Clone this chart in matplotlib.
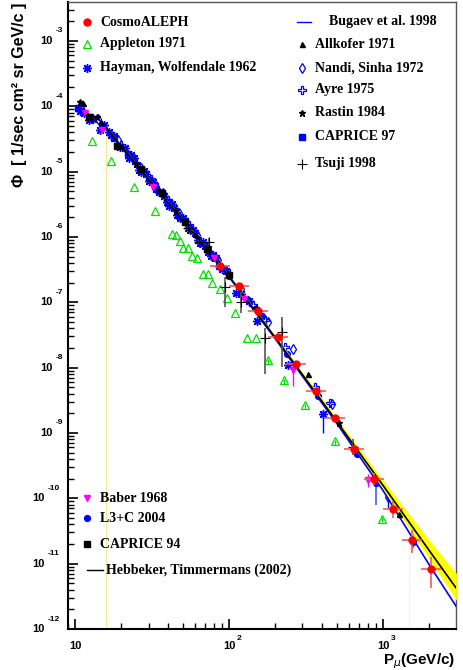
import numpy as np
import matplotlib.pyplot as plt
from matplotlib.ticker import LogLocator

W, H = 464, 670   # output size in pixels

# ---- curves (p in GeV/c, flux in 1/(s cm2 sr GeV/c)) ----
curve_p = [16, 20, 30, 50, 100, 200, 500, 1000, 2000, 3000]
hebb_f = [4.68e-5, 2.45e-5, 7.76e-6, 1.82e-6, 2.51e-7, 2.88e-8, 1.51e-9, 1.58e-10, 1.58e-11, 4.17e-12]
bugaev_f = [4.57e-5, 2.40e-5, 7.59e-6, 1.78e-6, 2.45e-7, 2.75e-8, 1.41e-9, 1.32e-10, 9.55e-12, 2.19e-12]
band_hi = [4.90e-5, 2.57e-5, 8.13e-6, 1.91e-6, 2.63e-7, 3.09e-8, 1.70e-9, 1.91e-10, 2.29e-11, 7.08e-12]
band_lo = [4.47e-5, 2.34e-5, 7.41e-6, 1.74e-6, 2.40e-7, 2.75e-8, 1.38e-9, 1.35e-10, 1.17e-11, 2.75e-12]
guide_p = [1486]

# ---- CosmoALEPH ----
cosmo_p = [87.5, 116, 155, 207, 273, 367, 488, 648, 871, 1157, 1543, 2050]
cosmo_f = [3.58e-7, 1.79e-7, 7.26e-8, 2.90e-8, 1.12e-8, 4.41e-9, 1.67e-9, 5.65e-10, 1.98e-10, 6.89e-11, 2.34e-11, 8.3e-12]
cosmo_dn = [0.03, 0.03, 0.03, 0.04, 0.04, 0.05, 0.06, 0.08, 0.10, 0.14, 0.20, 0.29]   # decades
cosmo_up = [0.03, 0.03, 0.03, 0.04, 0.04, 0.05, 0.06, 0.07, 0.09, 0.12, 0.15, 0.18]
cosmo_dx = 0.065

# ---- Appleton 1971 ----
appl_p = [12.9, 17.1, 24.2, 33.0, 42.9, 45.3, 48.1, 50.5, 53.9, 57.8, 61.7, 67.5, 72.7, 77.2,
          87.5, 96.6, 109, 130, 149, 180, 229, 313, 488, 989]
appl_f = [2.94e-5, 1.45e-5, 5.81e-6, 2.49e-6, 1.11e-6, 1.06e-6, 8.74e-7, 6.76e-7, 6.76e-7, 5.10e-7,
          4.70e-7, 2.70e-7, 2.70e-7, 1.99e-7, 1.59e-7, 1.15e-7, 6.9e-8, 2.83e-8, 2.83e-8, 1.30e-8,
          6.44e-9, 2.67e-9, 7.50e-10, 4.91e-11]

# ---- Hayman, Wolfendale 1962 ----
hay_p = [10.8, 11.5, 12.3, 13.0, 14.6, 15.5, 16.5, 17, 18, 19.5, 21, 22.5, 23, 24, 26, 27, 28,
         29, 30, 32, 33.5, 35, 36.5, 38, 39.5, 41, 42.5, 44, 46, 48, 50, 52, 54, 56, 58, 60,
         62.5, 65, 67.5, 70, 73, 76, 79, 82, 86, 90, 95, 111, 120, 135, 153, 243, 409]
hay_f = [8.5e-5, 7.9e-5, 6.2e-5, 6.3e-5, 4.4e-5, 5.13e-5, 4.0e-5, 3.63e-5, 3.5e-5, 2.4e-5,
         2.3e-5, 1.6e-5, 1.78e-5, 1.6e-5, 1.07e-5, 9.77e-6, 1.02e-5, 9.33e-6, 7.2e-6, 6.9e-6,
         5.37e-6, 4.8e-6, 4.79e-6, 4.3e-6, 3.39e-6, 3.0e-6, 3.16e-6, 2.8e-6, 2.19e-6, 1.95e-6,
         1.95e-6, 1.74e-6, 1.38e-6, 1.26e-6, 1.29e-6, 1.17e-6, 9.12e-7, 8.1e-7, 8.51e-7, 7.4e-7,
         5.89e-7, 5.1e-7, 5.37e-7, 4.7e-7, 3.63e-7, 3.2e-7, 3.02e-7, 1.40e-7, 1.35e-7, 1.05e-7,
         5.21e-8, 1.09e-8, 1.94e-9]

# ---- Allkofer 1971 ----
allk_p = [11.3, 14.8, 20, 35, 60, 324, 1276]
allk_f = [1.11e-4, 5.81e-5, 2.51e-5, 5.25e-6, 1.12e-6, 7.87e-9, 5.85e-11]

# ---- Nandi, Sinha 1972 ----
nandi_p = [11.0, 14.0, 19, 27, 37, 47, 62, 85, 120, 178, 259, 464, 1081]
nandi_f = [9.33e-5, 6.31e-5, 3.02e-5, 1.12e-5, 4.68e-6, 2.34e-6, 1.07e-6, 4.37e-7, 1.58e-7,
           5.02e-8, 1.94e-8, 2.76e-9, 1.03e-10]

# ---- Ayre 1975 ----
ayre_p = [20, 25, 31, 40, 55, 72, 95, 144, 171, 231, 361, 453]
ayre_f = [2.57e-5, 1.38e-5, 7.59e-6, 3.72e-6, 1.51e-6, 6.92e-7, 3.09e-7, 9.06e-8, 5.33e-8,
          2.08e-8, 5.08e-9, 2.83e-9]

# ---- Rastin 1984 ----
rastin_p = [10.7, 13.8, 25, 45, 80, 150, 520]
rastin_f = [1.18e-4, 6.79e-5, 1.32e-5, 2.51e-6, 4.79e-7, 8.32e-8, 1.40e-9]

# ---- CAPRICE 97 ----
cap97_p = [10.5, 12.5, 15, 18, 22, 27, 33, 40]
cap97_f = [9.55e-5, 6.92e-5, 5.01e-5, 3.31e-5, 1.86e-5, 1.05e-5, 6.03e-6, 3.47e-6]

# ---- Tsuji 1998 ----
tsuji_p = [53.9, 63.8, 74.1, 94.2, 119, 171, 220, 641]
tsuji_f = [1.36e-6, 8.45e-7, 8.45e-7, 1.69e-7, 9.98e-8, 2.80e-8, 3.53e-8, 6.07e-10]
tsuji_dn = [0.03, 0.03, 0.05, 0.30, 0.17, 0.54, 0.54, 0.12]
tsuji_up = [0.03, 0.03, 0.05, 0.16, 0.16, 0.16, 0.23, 0.12]

# ---- Baber 1968 ----
baber_p = [11.6, 15.0, 32, 80, 126, 261, 803]
baber_f = [7.98e-5, 4.34e-5, 5.87e-6, 4.70e-7, 1.11e-7, 9.16e-9, 1.94e-10]

# ---- L3+C 2004 ----
l3c_p = [22, 30, 40, 55, 75, 100, 130, 163, 239, 377, 675, 897, 1575]
l3c_f = [1.82e-5, 7.76e-6, 3.47e-6, 1.41e-6, 5.75e-7, 2.51e-7, 1.12e-7, 6.15e-8, 1.63e-8,
         3.67e-9, 4.73e-10, 1.69e-10, 2.15e-11]
l3c_dn = [0, 0, 0, 0, 0, 0, 0, 0, 0, 0, 0.05, 0.33, 0.10]
l3c_up = [0, 0, 0, 0, 0, 0, 0, 0, 0, 0, 0.05, 0.18, 0.10]

# ---- CAPRICE 94 ----
cap94_p = [12.4, 18.8, 26.7, 36.7, 51.5, 71.6, 100.5]
cap94_f = [6.93e-5, 2.47e-5, 1.11e-5, 4.66e-6, 1.68e-6, 6.53e-7, 2.58e-7]


def dec_err(f, dn, up):
    f = np.array(f)
    return [f * (1 - 10 ** -np.array(dn)), f * (10 ** np.array(up) - 1)]


st = {
    'cosmo': dict(marker='o', ms=5, color='red'),
    'appl': dict(marker='^', ms=5.5, mfc='none', mec='#00e000', mew=0.9),
    'hay': dict(marker=(8, 2, 0), ms=6.5, color='blue', mew=1.0),
    'allk': dict(marker='^', ms=3.6, color='black'),
    'nandi': dict(marker='d', ms=5, mfc='none', mec='blue', mew=0.9),
    'ayre': dict(marker='P', ms=6, mfc='none', mec='blue', mew=0.9),
    'rastin': dict(marker='*', ms=4.5, color='black'),
    'cap97': dict(marker='s', ms=3.8, color='blue'),
    'tsuji': dict(marker='+', ms=7, color='black', mew=0.8),
    'baber': dict(marker='v', ms=4.5, color='magenta'),
    'l3c': dict(marker='o', ms=4.2, color='blue'),
    'cap94': dict(marker='s', ms=4.5, color='black'),
}

fig = plt.figure(figsize=(W / 100, H / 100), dpi=100)
ax = fig.add_axes([68 / W, 1 - 629 / H, (456 - 68) / W, (629 - 2) / H])
ax.set_xscale('log')
ax.set_yscale('log')
ax.set_xlim(9.0, 2980)
ax.set_ylim(1e-12, 3.95e-3)

# blue crowd first
ax.plot(hay_p, hay_f, ls='none', zorder=2, **st['hay'])
ax.errorbar([hay_p[-1]], [hay_f[-1]], yerr=dec_err([hay_f[-1]], [0.29], [0.05]),
            fmt='none', ecolor='blue', elinewidth=1, zorder=2)
ax.plot(cap97_p, cap97_f, ls='none', zorder=2, **st['cap97'])
ax.plot(nandi_p, nandi_f, ls='none', zorder=2, **st['nandi'])
ax.errorbar([nandi_p[-1]], [nandi_f[-1]], yerr=dec_err([nandi_f[-1]], [0.16], [0.12]),
            fmt='none', ecolor='blue', elinewidth=1, zorder=2)
ax.plot(ayre_p, ayre_f, ls='none', zorder=2, **st['ayre'])
ax.errorbar(l3c_p, l3c_f, yerr=dec_err(l3c_f, l3c_dn, l3c_up), fmt='none',
            ecolor='#4060ff', elinewidth=1.2, zorder=2)
ax.plot(l3c_p, l3c_f, ls='none', zorder=2, **st['l3c'])

# band and model curves
ax.fill_between(curve_p, band_lo, band_hi, color='#ffff00', lw=0, zorder=3)
ax.vlines(curve_p[0], 1e-12, band_lo[0], color='#f2ec90', lw=0.8, zorder=1)
ax.vlines(guide_p, 1e-12, 3.2e-11, color='#f6f2d8', lw=0.8, zorder=1)
ax.plot(curve_p, bugaev_f, color='blue', lw=1.2, zorder=4)
ax.plot(curve_p, hebb_f, color='black', lw=1.2, zorder=4)

# other data on top
ax.errorbar(appl_p[-5:], appl_f[-5:], yerr=dec_err(appl_f[-5:], [0.06] * 5, [0.02] * 5),
            fmt='none', ecolor='#00e000', elinewidth=0.9, zorder=5)
ax.plot(appl_p, appl_f, ls='none', zorder=5, **st['appl'])
ax.plot(allk_p, allk_f, ls='none', zorder=5, **st['allk'])
ax.plot(rastin_p, rastin_f, ls='none', zorder=5, **st['rastin'])
ax.errorbar(baber_p[-2:], baber_f[-2:], yerr=dec_err(baber_f[-2:], [0.25, 0.12], [0.02, 0.08]),
            fmt='none', ecolor='magenta', elinewidth=1, zorder=5)
ax.plot(baber_p, baber_f, ls='none', zorder=5, **st['baber'])
ax.errorbar(tsuji_p, tsuji_f, yerr=dec_err(tsuji_f, tsuji_dn, tsuji_up), fmt='none',
            ecolor='#555555', elinewidth=1.2, zorder=5)
ax.plot(tsuji_p, tsuji_f, ls='none', zorder=5, **st['tsuji'])
ax.plot(cap94_p, cap94_f, ls='none', zorder=5, **st['cap94'])
ax.errorbar(cosmo_p, cosmo_f, yerr=dec_err(cosmo_f, cosmo_dn, cosmo_up),
            xerr=dec_err(cosmo_p, [cosmo_dx] * len(cosmo_p), [cosmo_dx] * len(cosmo_p)),
            fmt='none', ecolor='#f45a5a', elinewidth=1.2, zorder=6)
ax.plot(cosmo_p, cosmo_f, ls='none', zorder=6, **st['cosmo'])

# axes look (ROOT style)
ax.yaxis.set_major_locator(LogLocator(base=10, numticks=30))
ax.yaxis.set_minor_locator(LogLocator(base=10, subs=np.arange(2, 10), numticks=30))
ax.xaxis.set_major_locator(LogLocator(base=10, numticks=10))
ax.xaxis.set_minor_locator(LogLocator(base=10, subs=np.arange(2, 10), numticks=10))
ax.tick_params(which='both', direction='in', top=False, right=False,
               labelleft=False, labelbottom=False)
ax.tick_params(which='major', length=7, width=1.2)
ax.tick_params(which='minor', length=4, width=1)
for s in ['left', 'bottom']:
    ax.spines[s].set_linewidth(1.5)
for s in ['top', 'right']:
    ax.spines[s].set_linewidth(1.0)
    ax.spines[s].set_color('#555555')

tick_font = dict(family='Liberation Sans', weight='bold')
for e in range(-3, -13, -1):
    d = ax.transData.transform((10, 10.0 ** e))[1]
    xr = 53 if e > -10 else 45
    fig.text(xr / W, d / H, '10', ha='right', va='center', size=8, **tick_font)
    fig.text((xr + 2.5) / W, (d + 10) / H, str(e), ha='left', va='center', size=6, **tick_font)
for k in [1, 2, 3]:
    d = ax.transData.transform((10.0 ** k, 1e-12))[0]
    fig.text(d / W, 1 - 646 / H, '10', ha='center', va='center', size=8, **tick_font)
    if k > 1:
        fig.text((d + 7.5) / W, 1 - 639 / H, str(k), ha='left', va='center', size=6, **tick_font)

fig.text(455 / W, 1 - 661 / H, r'P$_{\mu}$(GeV/c)', ha='right', va='center', size=11,
         **tick_font)
fig.text(20 / W, 1 - 3 / H, 'Φ  [ 1/sec cm² sr GeV/c ]', rotation=90, ha='center', va='top',
         size=11.5, **tick_font)


# legends drawn by hand like the ROOT TLegend
def leg(x, y, tx, text, key=None, line=None):
    if key is not None:
        ax.plot([x / W], [1 - y / H], transform=fig.transFigure, clip_on=False, ls='none',
                **st[key])
    if line is not None:
        ax.plot([line[0] / W, line[1] / W], [1 - y / H] * 2, transform=fig.transFigure,
                clip_on=False, color=line[2], lw=1)
    fig.text(tx / W, 1 - y / H, text, ha='left', va='center', family='Liberation Serif',
             weight='bold', size=10)


leg(87, 22, 100, 'CosmoALEPH', 'cosmo')
leg(87, 44, 100, 'Appleton 1971', 'appl')
leg(87, 68, 100, 'Hayman, Wolfendale 1962', 'hay')
leg(0, 22, 329, 'Bugaev et al. 1998', line=(297, 311, 'blue'))
leg(302, 44, 315, 'Allkofer 1971', 'allk')
leg(302, 68, 315, 'Nandi, Sinha 1972', 'nandi')
leg(302, 90, 315, 'Ayre 1975', 'ayre')
leg(302, 113, 315, 'Rastin 1984', 'rastin')
leg(302, 137, 315, 'CAPRICE 97', 'cap97')
leg(302, 164, 315, 'Tsuji 1998', 'tsuji')
leg(87, 498, 100, 'Baber 1968', 'baber')
leg(87, 518, 100, 'L3+C 2004', 'l3c')
leg(87, 544, 100, 'CAPRICE 94', 'cap94')
leg(0, 570, 106, 'Hebbeker, Timmermans (2002)', line=(87, 103, 'black'))

fig.savefig('out.png', dpi=100)
